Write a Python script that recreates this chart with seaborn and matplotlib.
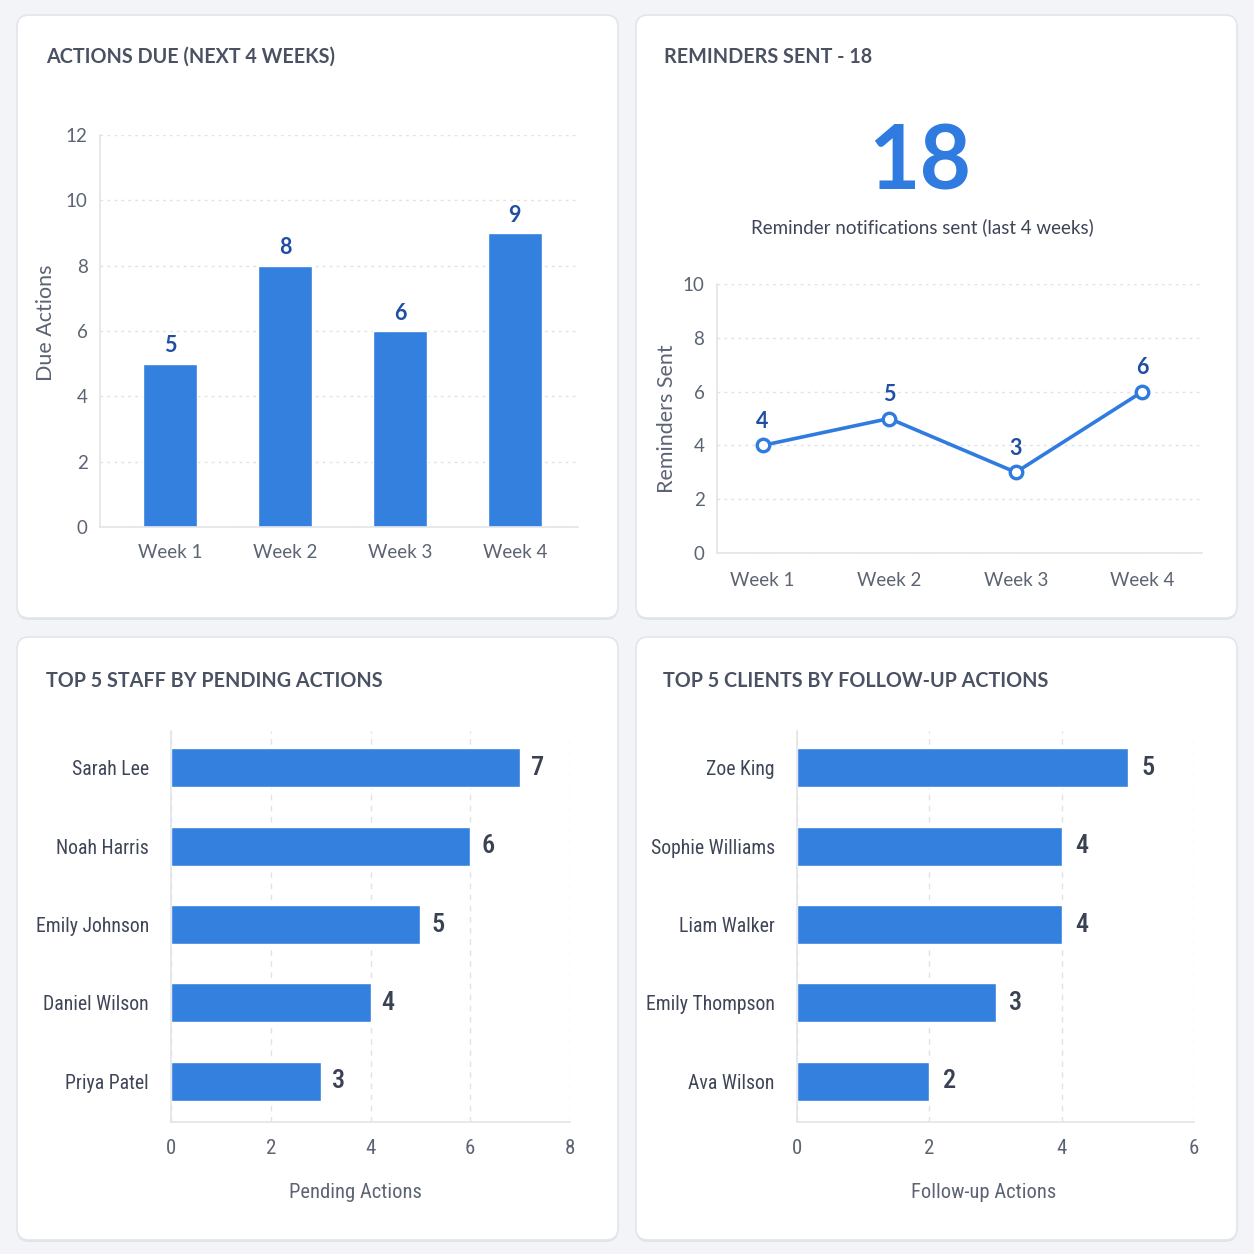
import matplotlib
matplotlib.use("Agg")
import matplotlib.pyplot as plt
from matplotlib.patches import FancyBboxPatch
from matplotlib import font_manager
import seaborn as sns
import pandas as pd

# ---------------- data ----------------
weeks = ["Week 1", "Week 2", "Week 3", "Week 4"]
due_actions = [5, 8, 6, 9]
reminders = [4, 5, 3, 6]
reminders_total = 18
staff_names = ["Sarah Lee", "Noah Harris", "Emily Johnson", "Daniel Wilson", "Priya Patel"]
staff_pending = [7, 6, 5, 4, 3]
client_names = ["Zoe King", "Sophie Williams", "Liam Walker", "Emily Thompson", "Ava Wilson"]
client_followups = [5, 4, 4, 3, 2]

titles = ["ACTIONS DUE (NEXT 4 WEEKS)", "REMINDERS SENT - 18",
          "TOP 5 STAFF BY PENDING ACTIONS", "TOP 5 CLIENTS BY FOLLOW-UP ACTIONS"]

# ---------------- style ----------------
sns.set_theme(style="white")
TITLE_FONT = ["Lato", "DejaVu Sans"]
available = {f.name for f in font_manager.fontManager.ttflist}
condensed = [n for n in ["Roboto Condensed", "Open Sans Condensed", "Liberation Sans Narrow",
                         "Noto Sans Condensed", "DejaVu Sans Condensed"] if n in available]
NARROW = (condensed[:1] or []) + ["Lato", "DejaVu Sans"]
HAVE_NARROW = bool(condensed)
plt.rcParams["font.family"] = ["Lato", "DejaVu Sans"]

BG = "#f2f4f7"
BLUE = "#3380df"
DARKBLUE = "#1f4ea3"
TITLE_C = "#4a5162"
TICK_C = "#5c6372"
NAME_C = "#3e4556"
GRID_C = "#dfe2e7"
SPINE_C = "#e1e4e9"

W = H = 1254
fig = plt.figure(figsize=(W / 100, H / 100), dpi=100, facecolor=BG)


def px_axes(x0, y0, x1, y1):
    return fig.add_axes([x0 / W, 1 - y1 / H, (x1 - x0) / W, (y1 - y0) / H])


def card(x0, y0, x1, y1):
    r = 12 / W
    shadow = FancyBboxPatch((x0 / W, 1 - (y1 + 2) / H), (x1 - x0) / W, (y1 - y0) / H,
                            boxstyle=f"round,pad=0,rounding_size={r}",
                            transform=fig.transFigure, facecolor="#d5d9e0",
                            edgecolor="none", alpha=0.6, zorder=-3)
    fig.patches.append(shadow)
    p = FancyBboxPatch((x0 / W, 1 - y1 / H), (x1 - x0) / W, (y1 - y0) / H,
                       boxstyle=f"round,pad=0,rounding_size={r}",
                       transform=fig.transFigure, facecolor="white",
                       edgecolor="#e2e5ea", linewidth=1.2, zorder=-2)
    fig.patches.append(p)


cards = [(17, 15, 618, 618), (636, 15, 1237, 618), (17, 637, 618, 1240), (636, 637, 1237, 1240)]
for c in cards:
    card(*c)

title_pos = [(46, 57), (664, 57), (46, 681), (663, 681)]
for t, (x, y) in zip(titles, title_pos):
    fig.text(x / W, 1 - y / H, t, fontsize=14.2, fontweight="bold", color=TITLE_C,
             family=TITLE_FONT, ha="left", va="center")


def style_axes(ax):
    ax.set_facecolor("none")
    for s in ["top", "right"]:
        ax.spines[s].set_visible(False)
    for s in ["left", "bottom"]:
        ax.spines[s].set_color(SPINE_C)
        ax.spines[s].set_linewidth(1.2)
    ax.tick_params(length=0)


# ---------------- panel 1: bars ----------------
ax1 = px_axes(100, 135, 578, 527)
df1 = pd.DataFrame({"week": weeks, "due": due_actions})
sns.barplot(data=df1, x="week", y="due", color=BLUE, width=0.47, saturation=1, ax=ax1)
style_axes(ax1)
ax1.set_xlim(-0.61, 3.55)
ax1.set_ylim(0, 12)
ax1.set_yticks(range(0, 13, 2))
ax1.yaxis.grid(True, linestyle=(0, (2, 3)), color=GRID_C, linewidth=1)
ax1.set_axisbelow(True)
ax1.tick_params(axis="y", pad=9, labelsize=13.5, labelcolor=TICK_C)
ax1.tick_params(axis="x", pad=12, labelsize=13.5, labelcolor=TICK_C)
for lab in ax1.get_xticklabels() + ax1.get_yticklabels():
    lab.set_family(TITLE_FONT)
ax1.set_xlabel("")
ax1.set_ylabel("Due Actions", fontsize=15.5, color=TICK_C, family=TITLE_FONT)
ax1.yaxis.set_label_coords((46 - 100) / 478, 0.52)
ax1.yaxis.label.set_va("center")
for i, v in enumerate(due_actions):
    ax1.text(i, v + 0.55, str(v), ha="center", va="center", fontsize=15.5,
             fontweight="bold", color=DARKBLUE, family=TITLE_FONT, clip_on=False)

# ---------------- panel 2: KPI + line ----------------
fig.text(920 / W, 1 - 163 / H, str(reminders_total), fontsize=64, fontweight="bold",
         color="#2f7be0", family=TITLE_FONT, ha="center", va="center")
fig.text(922 / W, 1 - 227 / H, "Reminder notifications sent (last 4 weeks)", fontsize=13.5,
         color="#3e4556", family=TITLE_FONT, ha="center", va="center")

ax2 = px_axes(717, 284, 1202, 553)
df2 = pd.DataFrame({"week": weeks, "sent": reminders})
sns.lineplot(data=df2, x="week", y="sent", color="#2f7be0", linewidth=2.6, marker="o",
             markersize=9, markerfacecolor="white", markeredgecolor="#2f7be0",
             markeredgewidth=2.4, sort=False, ax=ax2)
style_axes(ax2)
ax2.set_xlim(-0.36, 3.47)
ax2.set_ylim(0, 10)
ax2.set_yticks(range(0, 11, 2))
ax2.yaxis.grid(True, linestyle=(0, (2, 3)), color=GRID_C, linewidth=1)
ax2.set_axisbelow(True)
ax2.tick_params(axis="y", pad=9, labelsize=13.5, labelcolor=TICK_C)
ax2.tick_params(axis="x", pad=14, labelsize=13.5, labelcolor=TICK_C)
for lab in ax2.get_xticklabels() + ax2.get_yticklabels():
    lab.set_family(TITLE_FONT)
ax2.set_xlabel("")
ax2.set_ylabel("Reminders Sent", fontsize=15.5, color=TICK_C, family=TITLE_FONT)
ax2.yaxis.set_label_coords((667 - 717) / 485, 0.5)
ax2.yaxis.label.set_va("center")
for i, v in enumerate(reminders):
    ax2.text(i, v + 0.88, str(v), ha="center", va="center", fontsize=15.5,
             fontweight="bold", color=DARKBLUE, family=TITLE_FONT, clip_on=False)


# ---------------- panels 3 & 4: horizontal bars ----------------
name_size = 14.2 if HAVE_NARROW else 13.5
lab_size = 14.8 if HAVE_NARROW else 14
val_size = 19 if HAVE_NARROW else 18


def hbar(ax, names, vals, xmax, xlabel, label_off, xlabel_x):
    df = pd.DataFrame({"name": names, "val": vals})
    sns.barplot(data=df, x="val", y="name", orient="h", color=BLUE, width=0.5,
                saturation=1, ax=ax)
    style_axes(ax)
    ax.set_xlim(0, xmax)
    ax.set_xticks(range(0, xmax + 1, 2))
    ax.set_ylim(4.52, -0.47)
    ax.xaxis.grid(True, linestyle=(0, (4, 4)), color=GRID_C, linewidth=1)
    ax.set_axisbelow(True)
    ax.tick_params(axis="x", pad=12, labelsize=15, labelcolor=TICK_C)
    ax.tick_params(axis="y", pad=16, labelsize=name_size, labelcolor=NAME_C)
    for lab in ax.get_xticklabels() + ax.get_yticklabels():
        lab.set_family(NARROW)
    ax.set_ylabel("")
    ax.set_xlabel(xlabel, fontsize=lab_size, color=TICK_C, family=NARROW)
    ax.xaxis.set_label_coords(xlabel_x, -(1192 - 1122) / 391)
    ax.xaxis.label.set_va("center")
    for i, v in enumerate(vals):
        ax.text(v + label_off, i, str(v), ha="left", va="center", fontsize=val_size,
                fontweight="medium", color="#3a4152", family=NARROW, clip_on=False)


ax3 = px_axes(171, 731, 570, 1122)
hbar(ax3, staff_names, staff_pending, 8, "Pending Actions", 0.22, (355 - 171) / 399)
ax4 = px_axes(797, 731, 1194, 1122)
hbar(ax4, client_names, client_followups, 6, "Follow-up Actions", 0.2, (984 - 797) / 397)

fig.savefig("out.png", dpi=100, facecolor=BG)
